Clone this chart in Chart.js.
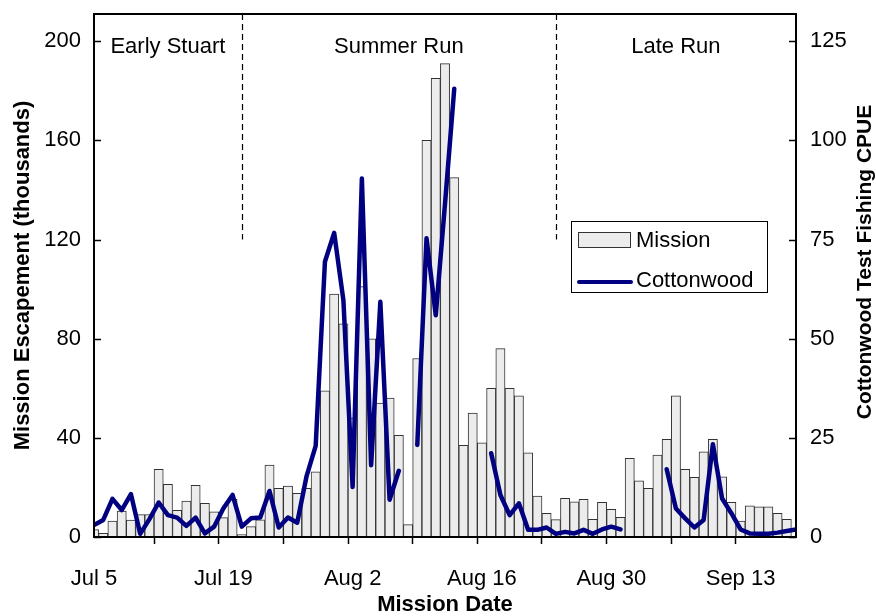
<!DOCTYPE html>
<html>
<head>
<meta charset="utf-8">
<script src="https://cdn.jsdelivr.net/npm/chart.js@4.4.1/dist/chart.umd.min.js"></script>
<style>
  html, body { margin: 0; padding: 0; background: #fff; }
  #wrap { width: 876px; height: 616px; }
</style>
</head>
<body>
<div id="wrap"><canvas id="chart"></canvas></div>
<script>
// one entry per day, Jul 5 .. Sep 19
const days = [
  'Jul 5','Jul 6','Jul 7','Jul 8','Jul 9','Jul 10','Jul 11','Jul 12','Jul 13','Jul 14',
  'Jul 15','Jul 16','Jul 17','Jul 18','Jul 19','Jul 20','Jul 21','Jul 22','Jul 23','Jul 24',
  'Jul 25','Jul 26','Jul 27','Jul 28','Jul 29','Jul 30','Jul 31','Aug 1','Aug 2','Aug 3',
  'Aug 4','Aug 5','Aug 6','Aug 7','Aug 8','Aug 9','Aug 10','Aug 11','Aug 12','Aug 13',
  'Aug 14','Aug 15','Aug 16','Aug 17','Aug 18','Aug 19','Aug 20','Aug 21','Aug 22','Aug 23',
  'Aug 24','Aug 25','Aug 26','Aug 27','Aug 28','Aug 29','Aug 30','Aug 31','Sep 1','Sep 2',
  'Sep 3','Sep 4','Sep 5','Sep 6','Sep 7','Sep 8','Sep 9','Sep 10','Sep 11','Sep 12',
  'Sep 13','Sep 14','Sep 15','Sep 16','Sep 17','Sep 18','Sep 19'
]
const tickLabels = ['Jul 5', 'Jul 19', 'Aug 2', 'Aug 16', 'Aug 30', 'Sep 13']

// Mission escapement, thousands
const missionValues = [
  3, 1.5, 6.4, 10.5, 6.8, 9, 9, 27.3, 21.2, 10.8,
  14.5, 20.8, 13.6, 10.2, 7.8, 15.2, 1, 4.2, 6.9, 29,
  19.6, 20.5, 17.6, 19.6, 26.3, 59, 98, 86, 48, 101,
  80, 54, 56, 41, 5, 72, 160, 185, 191, 145,
  37, 50, 38, 60, 76, 60, 57, 34, 16.5, 9.5,
  7, 15.6, 14.2, 15.2, 7.1, 14, 11.2, 7.9, 31.7, 22.7,
  19.6, 33.1, 39.4, 57, 27.3, 24.1, 34.4, 39.4, 24.3, 14,
  6.4, 12.6, 12.2, 12.2, 9.5, 7.1, 0
]

// Cottonwood test fishing CPUE (null = no fishing)
const cottonwoodValues = [
  3, 4.3, 9.6, 6.8, 10.8, 0.8, 4.5, 8.7, 5.5, 4.9,
  2.8, 4.9, 0.9, 2.6, 7.2, 10.6, 2.6, 4.7, 4.9, 11.6,
  2.4, 4.9, 3.6, 15.2, 23, 69.4, 76.7, 59.7, 12.6, 90.4,
  18.1, 59.3, 9.4, 16.7, null, 23.2, 75.3, 55.9, 84, 113,
  null, null, null, 21.1, 10.6, 5.5, 8.5, 1.8, 1.8, 2.4,
  0.8, 1.3, 0.9, 1.8, 0.8, 1.9, 2.6, 1.9, null, null,
  null, null, 17.1, 7.2, 4.7, 2.4, 4.3, 23.4, 9.7, 6,
  1.9, 0.9, 0.8, 0.8, 1.1, 1.5, 1.9
]

const runNames = ['Early Stuart', 'Summer Run', 'Late Run']
const runBreaks = ['Jul 21', 'Aug 24']

const fontFamily = "'Liberation Sans', Arial, Helvetica, sans-serif"
const lineColor = '#000080'
const barFill = '#ececec'
const barEdge = '#333333'

Chart.defaults.color = '#000'
Chart.defaults.font.family = fontFamily

// frame, inner ticks, run dividers, right title and legend
const decorations = {
  id: 'decorations',
  afterDraw(chart) {
    const ctx = chart.ctx
    const area = chart.chartArea
    const x = chart.scales.x
    const y = chart.scales.y
    const y2 = chart.scales.y2
    ctx.save()

    // dashed run dividers
    ctx.strokeStyle = '#000'
    ctx.lineWidth = 1.2
    ctx.setLineDash([6, 4])
    runBreaks.forEach(d => {
      const px = Math.round(x.getPixelForValue(days.indexOf(d))) + 0.5
      ctx.beginPath()
      ctx.moveTo(px, area.top)
      ctx.lineTo(px, y.getPixelForValue(120))
      ctx.stroke()
    })
    ctx.setLineDash([])

    // run names, centred between the dividers
    const bounds = [0].concat(runBreaks.map(d => days.indexOf(d)), [days.length - 1])
    ctx.font = '22px ' + fontFamily
    ctx.fillStyle = '#000'
    ctx.textAlign = 'center'
    ctx.textBaseline = 'alphabetic'
    runNames.forEach((name, i) => {
      const mid = (x.getPixelForValue(bounds[i]) + x.getPixelForValue(bounds[i + 1])) / 2
      ctx.fillText(name, mid, area.top + 39)
    })

    // inner ticks on both y axes
    ctx.lineWidth = 1.5
    y.ticks.forEach(t => {
      const py = Math.round(y.getPixelForValue(t.value)) + 0.5
      ctx.beginPath()
      ctx.moveTo(area.left, py)
      ctx.lineTo(area.left + 7, py)
      ctx.stroke()
    })
    y2.ticks.forEach(t => {
      const py = Math.round(y2.getPixelForValue(t.value)) + 0.5
      ctx.beginPath()
      ctx.moveTo(area.right, py)
      ctx.lineTo(area.right - 7, py)
      ctx.stroke()
    })

    // plot frame
    ctx.lineWidth = 2
    ctx.strokeRect(area.left, area.top, area.right - area.left, area.bottom - area.top)

    // right axis title, reading bottom to top
    ctx.save()
    ctx.translate(865, 262)
    ctx.rotate(-Math.PI / 2)
    ctx.font = 'bold 21px ' + fontFamily
    ctx.textAlign = 'center'
    ctx.textBaseline = 'middle'
    ctx.fillText('Cottonwood Test Fishing CPUE', 0, 0)
    ctx.restore()

    // legend box
    const lx = 571, ly = 221, lw = 196, lh = 71
    ctx.fillStyle = '#fff'
    ctx.fillRect(lx, ly, lw, lh)
    ctx.lineWidth = 1
    ctx.strokeStyle = '#000'
    ctx.strokeRect(lx + 0.5, ly + 0.5, lw, lh)
    ctx.fillStyle = barFill
    ctx.fillRect(578, 232, 52, 15)
    ctx.strokeStyle = barEdge
    ctx.strokeRect(578.5, 232.5, 52, 15)
    ctx.strokeStyle = lineColor
    ctx.lineWidth = 4
    ctx.lineCap = 'round'
    ctx.beginPath()
    ctx.moveTo(579, 282)
    ctx.lineTo(631, 282)
    ctx.stroke()
    ctx.fillStyle = '#000'
    ctx.font = '22px ' + fontFamily
    ctx.textAlign = 'left'
    ctx.textBaseline = 'middle'
    ctx.fillText('Mission', 636, 241)
    ctx.fillText('Cottonwood', 636, 281)
    ctx.restore()
  }
}

// fixed axis box sizes so the plot area lands where the original has it
function fixWidth(w) {
  return s => {
    s.width = w
    s.paddingTop = 0
    s.paddingBottom = 0
  }
}

const config = {
  data: {
    labels: days,
    datasets: [{
      type: 'line',
      label: 'Cottonwood',
      data: cottonwoodValues,
      yAxisID: 'y2',
      borderColor: lineColor,
      borderWidth: 4.5,
      borderJoinStyle: 'round',
      borderCapStyle: 'round',
      pointRadius: 0,
      tension: 0,
      spanGaps: false,
      clip: 0,
      order: 0
    }, {
      type: 'bar',
      label: 'Mission',
      data: missionValues,
      yAxisID: 'y',
      backgroundColor: barFill,
      borderColor: barEdge,
      borderWidth: 1,
      barPercentage: 1,
      categoryPercentage: 1,
      clip: 0,
      order: 1
    }]
  },
  options: {
    responsive: true,
    maintainAspectRatio: false,
    animation: false,
    layout: { padding: { top: 14, left: 0, right: 0, bottom: 0 } },
    plugins: {
      legend: { display: false },
      tooltip: { enabled: false }
    },
    scales: {
      x: {
        type: 'category',
        offset: false,
        afterFit: s => {
          s.height = 79
          s.paddingLeft = 0
          s.paddingRight = 0
        },
        grid: {
          drawOnChartArea: false,
          drawTicks: true,
          tickLength: 7,
          tickWidth: 1.5,
          tickColor: c => (c.index % 7 === 0 ? '#000' : 'rgba(0,0,0,0)')
        },
        border: { display: false },
        ticks: {
          autoSkip: false,
          maxRotation: 0,
          padding: 22,
          font: { size: 22 },
          callback: function (v, i) {
            const lab = days[i]
            return tickLabels.includes(lab) ? lab : ''
          }
        },
        title: {
          display: true,
          text: 'Mission Date',
          font: { size: 22, weight: 'bold' },
          padding: { top: 0, bottom: -2 }
        }
      },
      y: {
        position: 'left',
        min: 0,
        max: 211,
        afterFit: fixWidth(94),
        grid: { drawOnChartArea: false, drawTicks: false },
        border: { display: false },
        ticks: { stepSize: 40, includeBounds: false, padding: 13, font: { size: 22 } },
        title: {
          display: true,
          text: 'Mission Escapement (thousands)',
          font: { size: 22, weight: 'bold' },
          padding: { top: 10, bottom: 0 }
        }
      },
      y2: {
        position: 'right',
        min: 0,
        max: 131.875,
        afterFit: fixWidth(80),
        grid: { drawOnChartArea: false, drawTicks: false },
        border: { display: false },
        ticks: { stepSize: 25, includeBounds: false, padding: 14, font: { size: 22 } }
      }
    }
  },
  plugins: [decorations]
}

document.addEventListener('DOMContentLoaded', () => {
  new Chart(document.getElementById('chart'), config)
})
</script>
</body>
</html>
